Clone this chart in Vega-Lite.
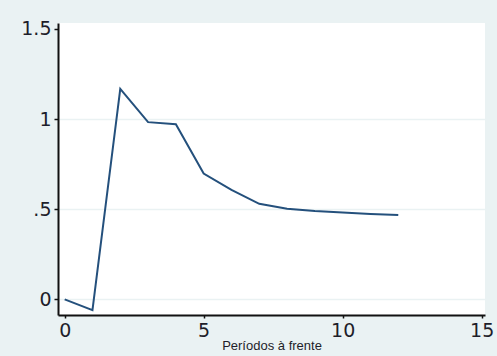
{
  "$schema": "https://vega.github.io/schema/vega-lite/v6.json",
  "width": 427,
  "height": 292,
  "autosize": {"type": "none"},
  "padding": {"left": 58, "top": 23, "right": 12, "bottom": 41},
  "background": "#eaf2f3",
  "config": {
    "view": {"fill": "white", "stroke": null},
    "axis": {
      "labelFont": "DejaVu Sans",
      "titleFont": "Liberation Sans",
      "labelColor": "#1e1e2a",
      "domainColor": "#111111",
      "tickColor": "#111111",
      "domainWidth": 2,
      "tickWidth": 1.5
    }
  },
  "data": {
    "values": [
      {"periodo": 0, "resposta": 0.0},
      {"periodo": 1, "resposta": -0.06},
      {"periodo": 2, "resposta": 1.168},
      {"periodo": 3, "resposta": 0.983},
      {"periodo": 4, "resposta": 0.971},
      {"periodo": 5, "resposta": 0.698},
      {"periodo": 6, "resposta": 0.607},
      {"periodo": 7, "resposta": 0.53},
      {"periodo": 8, "resposta": 0.503},
      {"periodo": 9, "resposta": 0.49},
      {"periodo": 10, "resposta": 0.481},
      {"periodo": 11, "resposta": 0.474},
      {"periodo": 12, "resposta": 0.468}
    ]
  },
  "mark": {"type": "line", "color": "#24507c", "strokeWidth": 2},
  "encoding": {
    "x": {
      "field": "periodo",
      "type": "quantitative",
      "scale": {"domain": [-0.24, 15.12], "nice": false, "zero": false},
      "axis": {
        "values": [0, 5, 10, 15],
        "grid": false,
        "title": "Períodos à frente",
        "titleFontSize": 13,
        "titleFontWeight": "normal",
        "titleColor": "#1e1e2a",
        "titlePadding": -1,
        "labelFontSize": 19,
        "labelPadding": 3,
        "tickSize": 3,
        "labelFlush": false
      }
    },
    "y": {
      "field": "resposta",
      "type": "quantitative",
      "scale": {"domain": [-0.087, 1.533], "nice": false, "zero": false},
      "axis": {
        "values": [0, 0.5, 1, 1.5],
        "format": "~g",
        "labelExpr": "datum.value == 0.5 ? '.5' : datum.label",
        "title": null,
        "grid": true,
        "gridColor": "#eaf2f3",
        "gridWidth": 1.5,
        "gridOpacity": {"condition": {"test": "datum.value == 1.5", "value": 0}, "value": 1},
        "labelFontSize": 19,
        "labelPadding": 3,
        "tickSize": 4,
        "labelFlush": false
      }
    }
  }
}
